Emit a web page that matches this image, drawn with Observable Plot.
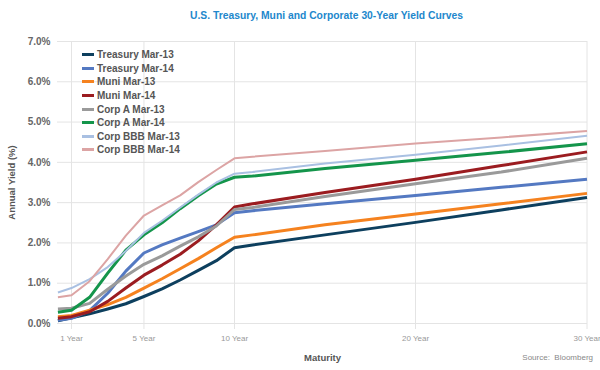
<!DOCTYPE html>
<html>
<head>
<meta charset="utf-8">
<script src="https://cdn.jsdelivr.net/npm/d3@7"></script>
<script src="https://cdn.jsdelivr.net/npm/@observablehq/plot@0.6"></script>
<style>
  html, body { margin: 0; padding: 0; background: #fff; }
  body { font-family: "Liberation Sans", Arial, sans-serif; }
  #wrap { position: relative; width: 600px; height: 370px; overflow: hidden; }
  #title { height: 28px; line-height: 30px; padding-left: 190px; font-size: 11px; font-weight: bold; color: #2287cc; white-space: nowrap; }
  #title span { display: inline-block; transform-origin: left center; }
  #legend { position: absolute; left: 82px; top: 48px; }
  .row { height: 13.6px; display: flex; align-items: center; font-size: 10px; font-weight: bold; color: #555; white-space: nowrap; }
  .sw { width: 12px; height: 3px; margin-right: 3px; }
  #source { position: absolute; right: 7px; top: 353px; font-size: 8px; color: #888; white-space: pre; }
  svg text { font-family: "Liberation Sans", Arial, sans-serif; }
  g[aria-label="y-axis tick label"] text { font-weight: bold; }
  g[aria-label="y-axis label"] text, g[aria-label="x-axis label"] text { font-weight: bold; }
</style>
</head>
<body>
<div id="wrap">
  <div id="title"><span>U.S. Treasury, Muni and Corporate 30-Year Yield Curves</span></div>
  <div id="chart"></div>
  <div id="legend"></div>
  <div id="source">Source:  Bloomberg</div>
</div>
<script>
const maturities = [0.25, 1, 2, 3, 4, 5, 6, 7, 8, 9, 10, 11, 15, 20, 25, 30];
const seriesNames = ["Treasury Mar-13", "Treasury Mar-14", "Muni Mar-13", "Muni Mar-14",
  "Corp A Mar-13", "Corp A Mar-14", "Corp BBB Mar-13", "Corp BBB Mar-14"];
const seriesColors = ["#0d3f5e", "#5479c2", "#f5821f", "#9b1c20", "#9a9a9a", "#14954b", "#a9c0e2", "#dca4a4"];
const treasuryMar13 = [0.07, 0.14, 0.24, 0.36, 0.49, 0.67, 0.86, 1.08, 1.32, 1.56, 1.88, 1.95, 2.20, 2.51, 2.82, 3.13];
const treasuryMar14 = [0.08, 0.13, 0.32, 0.75, 1.30, 1.75, 1.95, 2.12, 2.28, 2.45, 2.75, 2.80, 2.97, 3.18, 3.38, 3.58];
const muniMar13 = [0.17, 0.20, 0.33, 0.47, 0.65, 0.88, 1.11, 1.36, 1.61, 1.88, 2.14, 2.20, 2.45, 2.72, 2.97, 3.23];
const muniMar14 = [0.13, 0.17, 0.29, 0.55, 0.88, 1.20, 1.45, 1.72, 2.05, 2.45, 2.89, 2.97, 3.25, 3.58, 3.92, 4.26];
const corpAMar13 = [0.36, 0.38, 0.50, 0.85, 1.18, 1.47, 1.68, 1.92, 2.15, 2.42, 2.83, 2.88, 3.15, 3.47, 3.76, 4.10];
const corpAMar14 = [0.28, 0.33, 0.65, 1.25, 1.82, 2.20, 2.50, 2.85, 3.17, 3.46, 3.63, 3.66, 3.85, 4.05, 4.25, 4.46];
const corpBBBMar13 = [0.77, 0.88, 1.10, 1.40, 1.80, 2.25, 2.55, 2.88, 3.20, 3.50, 3.72, 3.76, 3.97, 4.19, 4.42, 4.66];
const corpBBBMar14 = [0.65, 0.70, 1.05, 1.60, 2.18, 2.68, 2.93, 3.18, 3.51, 3.81, 4.10, 4.14, 4.28, 4.47, 4.62, 4.78];
const seriesValues = [treasuryMar13, treasuryMar14, muniMar13, muniMar14, corpAMar13, corpAMar14, corpBBBMar13, corpBBBMar14];
const xTicks = [1, 5, 10, 20, 30];
const xTickLabels = ["1 Year", "5 Year", "10 Year", "20 Year", "30 Year"];
const yTicks = [0, 1, 2, 3, 4, 5, 6, 7];

const data = seriesNames.flatMap((s, i) => maturities.map((m, j) => ({s, m, v: seriesValues[i][j]})));

const chart = Plot.plot({
  width: 600,
  height: 342,
  marginTop: 13,
  marginBottom: 47,
  marginLeft: 57,
  marginRight: 13,
  style: {background: "transparent", overflow: "visible"},
  x: {type: "linear", domain: [1, 10, 20, 30], range: [71, 234, 415, 586.5]},
  y: {domain: [0, 7]},
  color: {domain: seriesNames, range: seriesColors},
  marks: [
    Plot.gridY({ticks: yTicks, stroke: "#e4e4e4", strokeOpacity: 1}),
    Plot.gridX({ticks: xTicks, stroke: "#e4e4e4", strokeOpacity: 1}),
    Plot.axisY({ticks: yTicks, tickFormat: d => d.toFixed(1) + "%", tickSize: 0, tickPadding: 7,
      fontSize: 10, color: "#666", label: "Annual Yield (%)", labelAnchor: "center", labelOffset: 49, labelArrow: "none"}),
    Plot.axisX({ticks: xTicks, tickFormat: d => xTickLabels[xTicks.indexOf(d)], tickSize: 6, tickPadding: 6,
      stroke: "#e4e4e4", color: "#999", fontSize: 8, label: "Maturity", labelAnchor: "center", labelOffset: 37, labelArrow: "none"}),
    ...seriesNames.map((s, i) => Plot.line(data.filter(d => d.s === s), {
      x: "m", y: "v", stroke: "s", strokeWidth: i >= 6 ? 2 : 3, strokeLinejoin: "round", strokeLinecap: "butt"
    }))
  ]
});
document.getElementById("chart").appendChild(chart);

chart.querySelectorAll('g[aria-label="x-axis label"] text').forEach(t => { t.setAttribute("fill", "#555"); t.style.fontSize = "9.5px"; });
chart.querySelectorAll('g[aria-label="y-axis label"] text').forEach(t => { t.setAttribute("fill", "#555"); t.style.fontSize = "9.5px"; });

const legend = document.getElementById("legend");
seriesNames.forEach((s, i) => {
  const row = document.createElement("div");
  row.className = "row";
  const sw = document.createElement("div");
  sw.className = "sw";
  sw.style.background = seriesColors[i];
  row.appendChild(sw);
  row.appendChild(document.createTextNode(s));
  legend.appendChild(row);
});

const tspan = document.querySelector("#title span");
const w = tspan.getBoundingClientRect().width;
tspan.style.transform = "scaleX(" + (273 / w) + ")";
</script>
</body>
</html>
